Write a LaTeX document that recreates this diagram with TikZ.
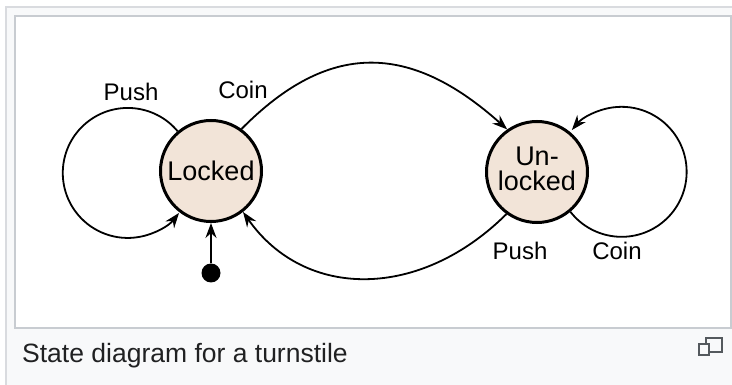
\documentclass[tikz,border=0pt]{standalone}
\usepackage{fontspec}
\setmainfont{Liberation Sans}
\usetikzlibrary{arrows.meta}
\definecolor{statefill}{HTML}{F2E4D8}
\definecolor{framegray}{HTML}{C8CCD1}
\definecolor{panelgray}{HTML}{F8F9FA}
\definecolor{captiontext}{HTML}{202122}
\definecolor{icongray}{HTML}{54595D}
\tikzset{
  state/.style={circle, draw=black, line width=3pt, fill=statefill,
    minimum size=101pt, inner sep=0pt, align=center,
    font=\fontsize{27}{29}\selectfont},
  edge/.style={draw=black, line width=1.8pt,
    -{Stealth[length=15pt, width=11pt, inset=5pt]}},
  lbl/.style={font=\fontsize{24}{26}\selectfont, inner sep=0pt},
  startdot/.style={circle, fill=black, minimum size=19pt, inner sep=0pt},
}
\begin{document}
\begin{tikzpicture}[x=1pt, y=-1pt]
\useasboundingbox (0,0) rectangle (732,385);
% thumbnail frame and white drawing area
\filldraw[fill=panelgray, draw=framegray!70, line width=1.5pt] (6,7) rectangle (745,400);
\filldraw[fill=white, draw=framegray, line width=1.5pt] (15,16) rectangle (731,328);

% states
\node[state] (L) at (211,171) {Locked};
\node[state] (U) at (537,172) {\raisebox{5pt}{\begin{tabular}{@{}c@{}}Un-\\[-4pt]locked\end{tabular}}};
\node[startdot] (S) at (211,273) {};

% transitions (y axis points down, so arc angles are mirrored)
\draw[edge] (L.54) .. controls (328,41.5) and (409,41.5) .. (U.125);
\draw[edge] (U.234) .. controls (420,300) and (305,300) .. (L.-52);
\draw[edge] (L.130) arc[start angle=-40, end angle=-322, radius=65];
\draw[edge] (U.-50) arc[start angle=-218, end angle=-500, radius=65];
\draw[edge, line width=2.2pt] (S) -- (L.south);

% labels
\node[lbl] (pushL) at (131,92) {Push};
\node[lbl] (coinL) at (243,90) {Coin};
\node[lbl] (pushU) at (520,251) {Push};
\node[lbl] (coinU) at (617,251) {Coin};

% caption and enlarge icon
\node[anchor=base west, inner sep=0pt, text=captiontext,
  font=\fontsize{26.5}{28}\selectfont] (cap) at (22,362) {State diagram for a turnstile};
\draw[icongray, line width=1.6pt] (706,338) rectangle (722,352);
\filldraw[fill=panelgray, draw=icongray, line width=1.6pt] (699,344) rectangle (709,355);
\end{tikzpicture}
\end{document}
